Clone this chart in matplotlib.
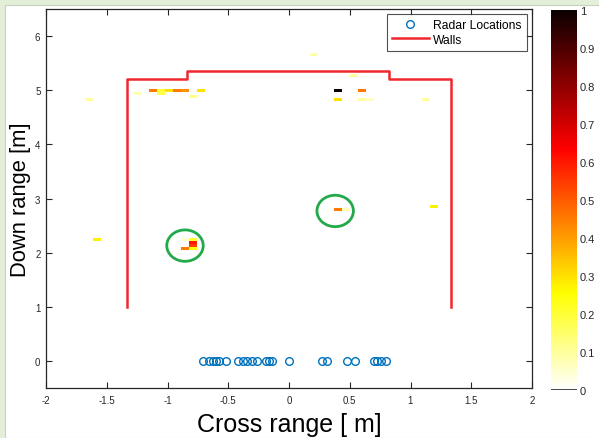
import numpy as np
import matplotlib.pyplot as plt
from matplotlib.patches import Ellipse, Rectangle

plt.rcParams['font.family'] = ['Liberation Sans', 'DejaVu Sans']

# ---- donnees ----
radar_x = [-0.705, -0.656, -0.628, -0.60, -0.574, -0.519, -0.42, -0.376, -0.343,
           -0.305, -0.266, -0.19, -0.167, -0.14, 0.0, 0.27, 0.315, 0.475, 0.543,
           0.70, 0.727, 0.754, 0.798]
radar_y = [0.0] * len(radar_x)

wall_x = [-1.33, -1.33, -0.84, -0.84, 0.82, 0.82, 1.33, 1.33]
wall_y = [1.0, 5.2, 5.2, 5.35, 5.35, 5.2, 5.2, 1.0]

# cellules de l'image (centre x, centre y, intensite)
cell_x = [-1.645, -1.249, -1.117, -1.051, -1.051, -0.985, -0.919, -0.853, -0.787, -0.721,
          0.203, 0.533, 0.401, 0.599, 0.401, 0.599, 0.665, 1.127, 1.193, 0.401, 0.467,
          -1.579, -0.853, -0.787, -0.787, -0.787, -0.853, -0.787]
cell_y = [4.835, 4.945, 5.0, 5.0, 4.945, 5.0, 5.0, 5.0, 4.89, 5.0,
          5.66, 5.275, 5.0, 5.0, 4.835, 4.835, 4.835, 4.835, 2.855, 2.80, 2.80,
          2.25, 2.25, 2.25, 2.195, 2.145, 2.09, 2.09]
cell_v = [0.1, 0.08, 0.45, 0.2, 0.18, 0.3, 0.45, 0.42, 0.12, 0.3,
          0.08, 0.1, 1.0, 0.45, 0.3, 0.1, 0.06, 0.1, 0.28, 0.45, 0.08,
          0.28, 0.05, 0.2, 0.6, 0.55, 0.45, 0.25]

# cibles entourees (centre x, centre y)
target_x = [-0.856, 0.38]
target_y = [2.13, 2.77]

# ---- grille pour pcolormesh ----
dx, dy = 0.066, 0.055
x0, y0 = -2.008, -0.5
nx, ny = 62, 130
xedges = x0 + dx * np.arange(nx + 1)
yedges = y0 + dy * np.arange(ny + 1)
grid = np.full((ny, nx), np.nan)
for cx, cy, v in zip(cell_x, cell_y, cell_v):
    j = int(np.floor((cx - x0) / dx))
    i = int(np.floor((cy - y0) / dy))
    grid[i, j] = v
y_shift = 5.0 - (yedges[int(np.floor((5.0 - y0) / dy))] + dy / 2)
yedges = yedges + y_shift

fig = plt.figure(figsize=(5.99, 4.39), dpi=100)
fig.patch.set_facecolor('#e3efd9')
fig.patches.append(Rectangle((5 / 599, 0), 1, 1 - 6 / 439, transform=fig.transFigure,
                             facecolor='white', edgecolor='#c8d0c0', linewidth=0.8,
                             zorder=-10))

ax = fig.add_axes([46 / 599, 1 - 389 / 439, 486 / 599, 379 / 439])
mesh = ax.pcolormesh(xedges, yedges, np.ma.masked_invalid(grid), cmap='hot_r',
                     vmin=0, vmax=1)

ax.plot(radar_x, radar_y, 'o', mfc='none', mec='#0072BD', ms=5.5, mew=1.0,
        label='Radar Locations')
ax.plot(wall_x, wall_y, '-', color='#f0282d', lw=1.8, label='Walls')

for tx, ty in zip(target_x, target_y):
    ax.add_patch(Ellipse((tx, ty), 0.30, 0.58, fill=False, edgecolor='#22a94a', lw=2))

ax.set_xlim(-2, 2)
ax.set_ylim(-0.5, 6.5)
ax.set_xticks([-2, -1.5, -1, -0.5, 0, 0.5, 1, 1.5, 2])
ax.set_xticklabels(['-2', '-1.5', '-1', '-0.5', '0', '0.5', '1', '1.5', '2'])
ax.set_yticks([0, 1, 2, 3, 4, 5, 6])
ax.tick_params(direction='in', top=True, right=True, length=4, width=0.8,
               labelsize=7, colors='#262626', pad=5)
ax.tick_params(axis='y', pad=4)
for sp in ax.spines.values():
    sp.set_color('#262626')
    sp.set_linewidth(0.9)
ax.set_xlabel('Cross range [ m]', fontsize=18, labelpad=5)
ax.set_ylabel('Down range [m]', fontsize=15.8, labelpad=3)

leg = ax.legend(loc='upper right', fontsize=8.7, frameon=True, fancybox=False,
                edgecolor='#262626', borderaxespad=0.45, handlelength=3.1,
                borderpad=0.4, labelspacing=0.2, handletextpad=0.35)
leg.get_frame().set_linewidth(0.8)

cax = fig.add_axes([551 / 599, 1 - 391 / 439, 26 / 599, 380 / 439])
cb = fig.colorbar(mesh, cax=cax)
cb.set_ticks(np.arange(0, 1.01, 0.1))
cb.set_ticklabels(['0', '0.1', '0.2', '0.3', '0.4', '0.5', '0.6', '0.7', '0.8', '0.9', '1'])
cax.tick_params(labelsize=8, length=0, colors='#262626', pad=2)
cb.outline.set_visible(False)
cax.axhline(0, color='#262626', lw=1.2)

fig.savefig('out.png', dpi=100)
